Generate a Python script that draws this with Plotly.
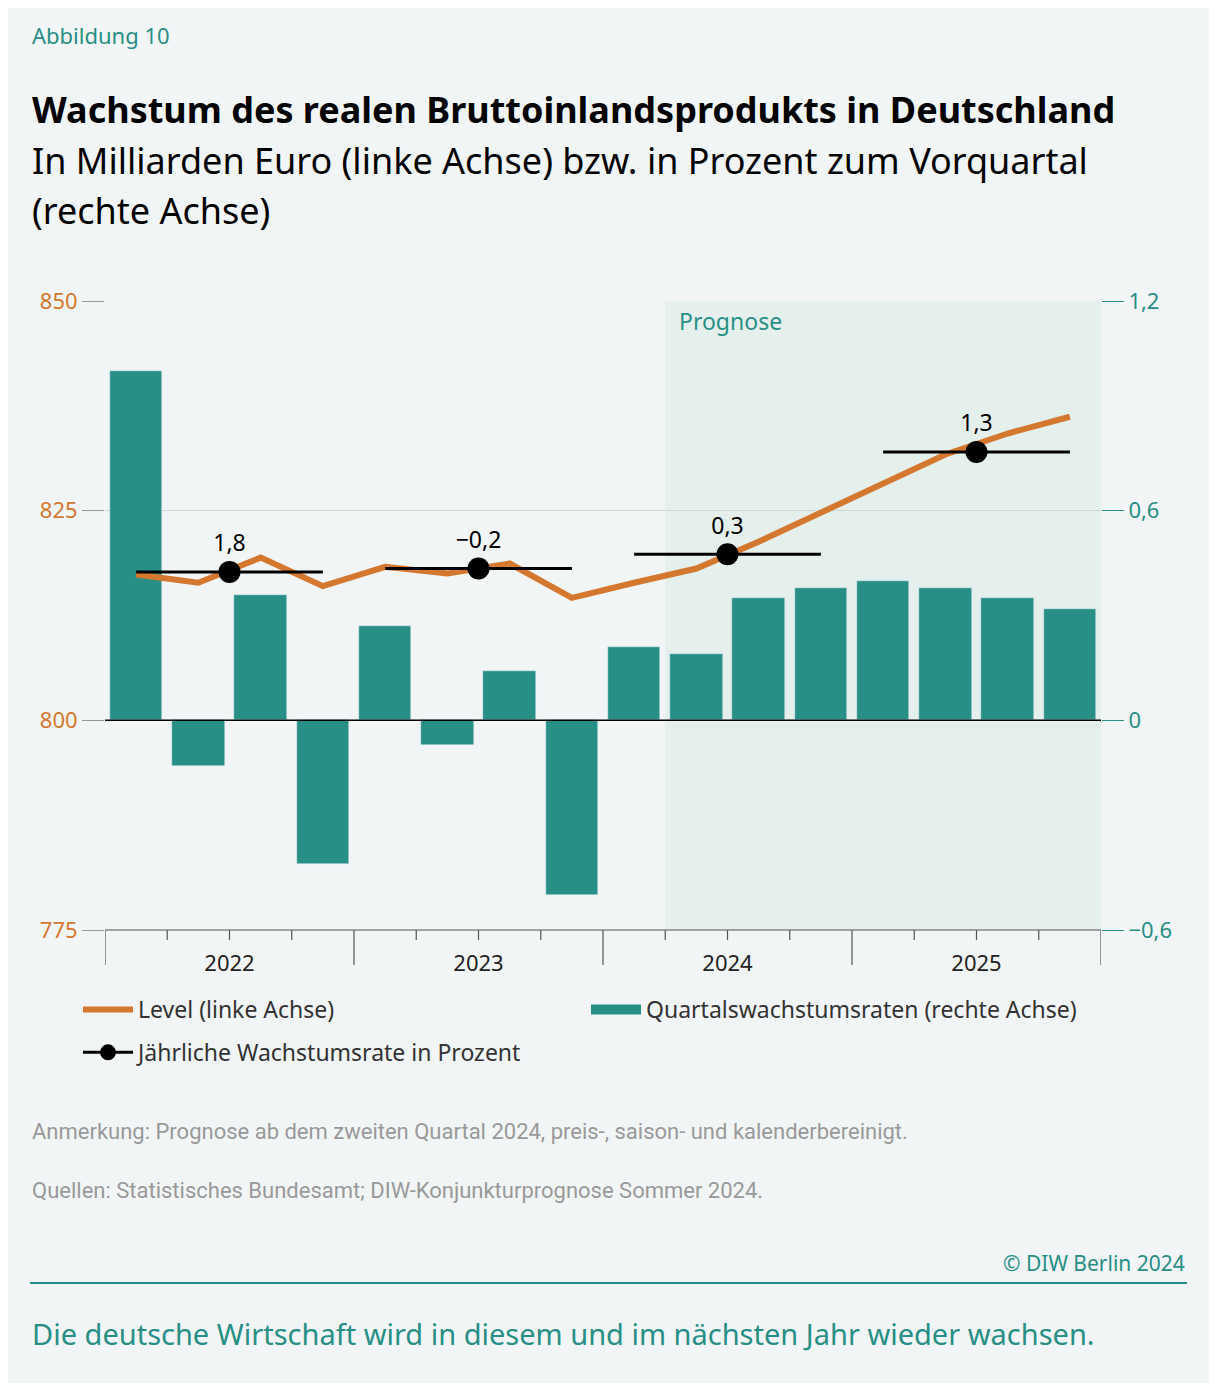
import plotly.graph_objects as go

quarters = list(range(16))
growth = [1.0, -0.13, 0.36, -0.41, 0.27, -0.07, 0.14, -0.5,
          0.21, 0.19, 0.35, 0.38, 0.40, 0.38, 0.35, 0.32]
level = [817.4, 816.4, 819.4, 816.0, 818.3, 817.5, 818.7, 814.6,
         816.4, 818.1, 821.3, 824.8, 828.3, 831.7, 834.2, 836.2]
years = ["2022", "2023", "2024", "2025"]
year_pos = [1.5, 5.5, 9.5, 13.5]
annual_level = [817.7, 818.1, 819.8, 832.0]
annual_labels = ["1,8", "\u22120,2", "0,3", "1,3"]

ORANGE = "#d4782f"
TEAL = "#288f86"
BG = "#f2f5f5"
FONT = "Noto Sans"
OFF = 8  # page offset of the rendered figure
L, R, T, B = 105 - OFF, 116 - OFF, 301 - OFF, 461 - OFF
W, H = 1217 - 2 * OFF, 1391 - 2 * OFF
PW, PH = W - L - R, H - T - B

fig = go.Figure()
# bars on y (right axis), level on y2 (left axis, drawn on top)
fig.add_trace(go.Bar(x=quarters, y=growth, width=0.84, marker_color=TEAL, showlegend=False))
fig.add_trace(go.Scatter(x=quarters, y=level, yaxis="y2", mode="lines", name="Level (linke Achse)",
                         legendgroup="a", line=dict(color=ORANGE, width=6)))
fig.add_trace(go.Scatter(x=[None], y=[None], mode="lines", legend="legend2",
                         name="Quartalswachstumsraten (rechte Achse)",
                         line=dict(color=TEAL, width=18)))
for p, v in zip(year_pos, annual_level):
    fig.add_trace(go.Scatter(x=[p - 1.5, p + 1.5], y=[v, v], yaxis="y2", mode="lines",
                             line=dict(color="black", width=3), showlegend=False))
fig.add_trace(go.Scatter(x=year_pos, y=annual_level, yaxis="y2", mode="markers+text", showlegend=False,
                         marker=dict(color="black", size=22),
                         text=annual_labels, textposition="top center",
                         textfont=dict(size=23, color="black", family=FONT)))
fig.add_trace(go.Scatter(x=[None], y=[None], mode="lines+markers", legendgroup="b",
                         name="Jährliche Wachstumsrate in Prozent",
                         marker=dict(color="black", size=22), line=dict(color="black", width=3)))


def px_to_paper(px_x, px_y):
    return (px_x - OFF - L) / PW, (1391 - px_y - OFF - B) / PH


shapes = [dict(type="rect", xref="x", yref="paper", x0=8.5, x1=15.5, y0=0, y1=1,
               fillcolor="#e5efec", line_width=0, layer="below"),
          dict(type="line", xref="paper", yref="y", x0=0, x1=1, y0=0, y1=0,
               line=dict(color="black", width=1.5)),
          dict(type="line", xref="paper", yref="paper", x0=0, x1=1, y0=0, y1=0,
               line=dict(color="#555", width=1.2))]
x0p, yp = px_to_paper(30, 1283)
x1p, _ = px_to_paper(1187, 1283)
shapes.append(dict(type="line", xref="paper", yref="paper", x0=x0p, x1=x1p, y0=yp, y1=yp,
                   line=dict(color=TEAL, width=2)))
for k in range(17):
    major = k % 4 == 0
    shapes.append(dict(type="line", xref="x", yref="paper", x0=k - 0.5, x1=k - 0.5,
                       y0=0, y1=-35 / PH if major else -10 / PH,
                       line=dict(color="#555", width=1.2)))
fig.update_layout(shapes=shapes)

texts = [
    ("Abbildung 10", 30, 35, 22, TEAL, FONT, "left"),
    ("<b>Wachstum des realen Bruttoinlandsprodukts in Deutschland</b>", 30, 110, 36, "black", FONT, "left"),
    ("In Milliarden Euro (linke Achse) bzw. in Prozent zum Vorquartal", 30, 160, 36, "black", FONT, "left"),
    ("(rechte Achse)", 30, 210, 36, "black", FONT, "left"),
    ("Anmerkung: Prognose ab dem zweiten Quartal 2024, preis-, saison- und kalenderbereinigt.",
     30, 1131, 22, "#999999", "Roboto", "left"),
    ("Quellen: Statistisches Bundesamt; DIW-Konjunkturprognose Sommer 2024.",
     30, 1190, 22, "#999999", "Roboto", "left"),
    ("© DIW Berlin 2024", 1187, 1263, 21, TEAL, FONT, "right"),
    ("Die deutsche Wirtschaft wird in diesem und im nächsten Jahr wieder wachsen.",
     30, 1333, 29, TEAL, FONT, "left"),
]
ann = [dict(text="Prognose", x=9.55, y=1.0, xref="x", yref="paper", yanchor="top", showarrow=False,
            font=dict(size=23, color=TEAL, family=FONT), yshift=-2)]
for txt, px_x, px_y, size, color, fam, anchor in texts:
    x, y = px_to_paper(px_x, px_y)
    ann.append(dict(text=txt, xref="paper", yref="paper", x=x, y=y, xanchor=anchor,
                    yanchor="middle", showarrow=False, font=dict(size=size, color=color, family=fam)))
fig.update_layout(annotations=ann)

lx1, ly = px_to_paper(78, 988)
lx2, _ = px_to_paper(586, 988)
fig.update_layout(
    width=W, height=H, paper_bgcolor=BG, plot_bgcolor=BG,
    margin=dict(l=L, r=R, t=T, b=B),
    font=dict(family=FONT, size=21, color="#333"),
    xaxis=dict(range=[-0.5, 15.5], tickvals=year_pos, ticktext=years, showgrid=False,
               zeroline=False, ticks="", tickfont=dict(size=22, color="#222"), ticklabelstandoff=18),
    yaxis=dict(range=[-0.6, 1.2], tickvals=[-0.6, 0, 0.6, 1.2], ticktext=["\u22120,6", "0", "0,6", "1,2"],
               side="right", showgrid=True, gridcolor="#cfd6d6", zeroline=False, ticks="outside",
               ticklen=22, tickcolor=TEAL, tickfont=dict(size=22, color=TEAL)),
    yaxis2=dict(range=[775, 850], tickvals=[775, 800, 825, 850], overlaying="y", side="left",
                showgrid=False, zeroline=False, ticks="outside", ticklen=22, tickcolor="#999",
                tickwidth=1, tickfont=dict(size=22, color=ORANGE)),
    bargap=0,
    legend=dict(x=lx1, y=ly, xanchor="left", yanchor="top", font=dict(size=23, color="#333"),
                bgcolor="rgba(0,0,0,0)", tracegroupgap=10, itemwidth=50),
    legend2=dict(x=lx2, y=ly, xanchor="left", yanchor="top", font=dict(size=23, color="#333"),
                 bgcolor="rgba(0,0,0,0)", itemwidth=50),
)

fig.write_html("out.html")
